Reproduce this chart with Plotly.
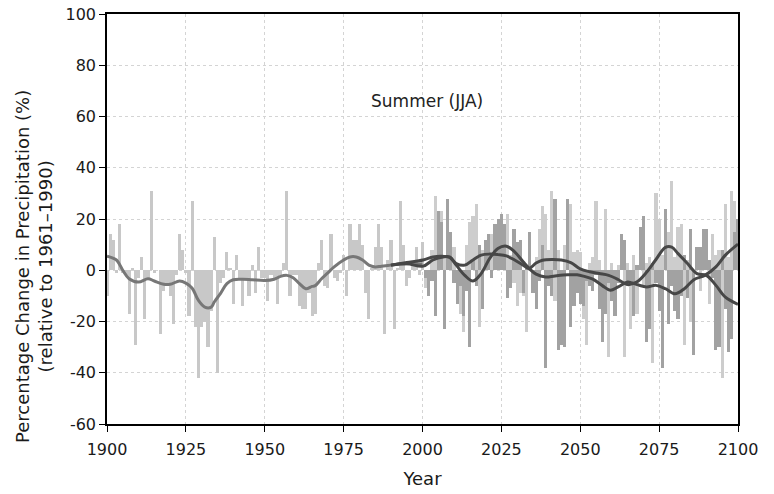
import plotly.graph_objects as go

# ---------------- data ----------------
obs_years = list(range(1900, 2001))
obs_values = [
    -10, 14, 12, -1, 18, -1, -2, -17, 1, -29,
    -3, 5, -19, -3, 31, -1, 0, -25, -8, -6,
    -10, -21, -2, 14, 8, -1, -18, 27, -22, -42,
    -22, -20, -30, -16, 13, -40, -5, -3, 7, 1,
    -13, 6, -3, -14, -3, -10, 2, -9, 9, -3,
    -3, -12, -2, -3, -13, -2, 3, 31, -10, -2,
    -2, -14, -15, -15, -9, -18, -17, 3, 12, -6,
    -7, 14, -3, -4, -1, 6, -10, 18, 12, 12,
    18, 10, -9, -19, 1, 9, 18, 9, -25, 4,
    12, -23, 1, 27, 10, -6, -3, 2, 9, -2,
    11,
]

model_years = list(range(2001, 2101))
model_light = [
    -7, -5, 8, 29, 19, 23, 5, 12, 12, 9,
    -9, -17, -24, 10, 19, 21, 26, -22, 8, 5,
    10, 14, 14, 10, 13, 13, 22, 6, -5, -14,
    -9, -10, -24, 8, -3, 5, 16, 25, 22, 8,
    31, -12, 8, -18, 10, 4, 26, 7, 8, 7,
    -19, -29, 3, 5, 27, 4, -6, 24, -34, 3,
    -8, 2, 4, -34, 3, -23, 6, -17, 5, -6,
    3, 5, -36, 30, 20, 6, 12, 15, 35, 5,
    17, 18, -29, 4, -20, -18, 3, -8, 5, 15,
    -13, 14, 6, 8, -42, 26, 5, 31, 27, 8,
]
model_dark = [
    -3, -10, -4, -18, 23, 19, -23, 28, 15, -5,
    -13, -6, -18, -8, -30, 4, -6, 10, -15, 12,
    14, -3, 18, 20, 22, 18, -11, -7, 16, 11,
    12, -9, 2, 15, -9, -15, -4, 10, -38, -6,
    -10, 28, -31, -29, -30, 28, -22, -14, -9, -13,
    -14, -4, -6, -8, -2, -15, -28, -17, -5, -12,
    -18, -5, 14, 12, -6, -4, -18, 2, 17, 21,
    -28, -23, 3, -5, -16, -38, 24, -21, -6, -16,
    -19, -10, 6, -11, 16, -33, 9, 9, 16, 16,
    4, -3, -31, -30, 8, -15, -32, -27, 15, 20,
]

obs_smooth_years = [1900, 1903, 1905, 1907, 1910, 1913, 1915, 1918, 1920, 1923,
                    1925, 1927, 1929, 1931, 1933, 1934, 1936, 1938, 1940, 1943,
                    1946, 1950, 1953, 1955, 1957, 1959, 1961, 1963, 1965, 1966,
                    1968, 1970, 1972, 1975, 1977, 1979, 1981, 1983, 1985, 1987,
                    1990, 1993, 1996, 2000]
obs_smooth_values = [5.5, 4, 0, -3.3, -4.6, -3.3, -4.2, -5.5, -5.5, -4.2,
                     -5, -7, -11.8, -14.4, -14.4, -12.4, -9, -5.2, -3.7, -3.5,
                     -3.7, -4, -3.5, -2.4, -2, -2.9, -5.2, -7.2, -6.3, -6,
                     -3.3, -1, 1.3, 4, 5.2, 5.2, 4, 2, 1.3, 1.6,
                     2, 2.4, 2.6, 2.4]

modelA_years = [1990, 1995, 2000.2, 2003.3, 2006.5, 2008.6, 2010.7, 2013.4, 2016, 2018.6,
                2021.3, 2023.9, 2026.6, 2029.2, 2031.9, 2033.8, 2036, 2039, 2042, 2046,
                2049, 2051, 2054, 2057, 2059.5, 2062, 2065, 2068, 2071, 2074,
                2077, 2080, 2083, 2086, 2089.5, 2093, 2096, 2100]
modelA_values = [2, 2.5, 1.6, 4, 5.2, 5.2, 2, -2, -4.2, -1.3,
                 4.6, 8.5, 9.4, 7.2, 3.3, 0.7, -1.5, -2.6, -2.2, -1.8,
                 -1.8, -2.3, -3.5, -6.0, -7.8, -6.5, -4.6, -5.6, -6.5, -5.9,
                 -7.2, -9.2, -7.2, -3.7, -2.0, 1.3, 5.9, 10.2]

modelB_years = [1990, 1995, 2000.2, 2003.3, 2006, 2008.6, 2010.7, 2013.4, 2016, 2018.6,
                2021.3, 2023.9, 2026.6, 2029.2, 2031.9, 2033.8, 2036, 2038, 2041, 2044,
                2047, 2050, 2053, 2056, 2059, 2062, 2065, 2068, 2071, 2074,
                2077, 2079, 2081, 2084, 2087, 2090, 2093, 2096, 2100]
modelB_values = [2, 3, 4, 5.2, 5.5, 5, 2.6, 2, 4, 5.9,
                 6.3, 6.1, 5.6, 4, 2, 0.7, 2.8, 3.9, 4.2, 4.0,
                 3.0, 0.5, -0.6, -1.3, -2.0, -3.6, -5.6, -4.5, -0.8, 4.2,
                 8.9, 9.0, 6.5, 2.6, -1.3, -2.0, -5.9, -10.5, -13.3]

x_ticks = [1900, 1925, 1950, 1975, 2000, 2025, 2050, 2075, 2100]
y_ticks = [-60, -40, -20, 0, 20, 40, 60, 80, 100]

FONT = "DejaVu Sans, sans-serif"

fig = go.Figure()
fig.add_trace(go.Bar(x=obs_years, y=obs_values, width=1, marker=dict(color="#c8c8c8", line=dict(width=0)),
                     showlegend=False))
fig.add_trace(go.Bar(x=model_years, y=model_light, width=1, marker=dict(color="#cdcdcd", line=dict(width=0)),
                     showlegend=False))
fig.add_trace(go.Bar(x=model_years, y=model_dark, width=1, marker=dict(color="#a2a2a2", line=dict(width=0)),
                     showlegend=False))
fig.add_trace(go.Scatter(x=obs_smooth_years, y=obs_smooth_values, mode="lines",
                         line=dict(color="#777777", width=3, shape="spline", smoothing=1.0), showlegend=False))
fig.add_trace(go.Scatter(x=modelA_years, y=modelA_values, mode="lines",
                         line=dict(color="#474747", width=3, shape="spline", smoothing=1.0), showlegend=False))
fig.add_trace(go.Scatter(x=modelB_years, y=modelB_values, mode="lines",
                         line=dict(color="#474747", width=3, shape="spline", smoothing=1.0), showlegend=False))

fig.add_annotation(x=2001.5, y=66, text="Summer (JJA)", showarrow=False,
                   font=dict(family=FONT, size=17, color="#222222"))

# y-axis title (two centred lines, placed like the original)
fig.add_annotation(xref="paper", yref="paper", x=-0.116, y=0.385,
                   xanchor="center", yanchor="middle", textangle=-90, showarrow=False,
                   text="Percentage Change in Precipitation (%)<br>(relative to 1961\u20131990)",
                   font=dict(family=FONT, size=18, color="#1a1a1a"))

fig.update_layout(
    width=774, height=494,
    margin=dict(l=107, r=36, t=14, b=70, autoexpand=False),
    paper_bgcolor="white", plot_bgcolor="white",
    barmode="overlay", bargap=0,
    font=dict(family=FONT, size=16, color="#1a1a1a"),
)
fig.update_xaxes(
    range=[1900, 2100], tickvals=x_ticks, ticktext=[str(v) for v in x_ticks],
    showline=True, linecolor="black", linewidth=1.5, mirror=True,
    ticks="outside", ticklen=6, tickcolor="black",
    showgrid=True, gridcolor="#d4d4d4", griddash="dot", gridwidth=1,
    zeroline=False, ticklabelstandoff=4, automargin=False,
    title=dict(text="Year", standoff=14, font=dict(size=18)),
    tickfont=dict(size=16),
)
fig.update_yaxes(
    range=[-60, 100], tickvals=y_ticks, ticktext=[str(v) for v in y_ticks],
    showline=True, linecolor="black", linewidth=1.5, mirror=True,
    ticks="outside", ticklen=6, tickcolor="black",
    showgrid=True, gridcolor="#d4d4d4", griddash="dot", gridwidth=1,
    zeroline=False, automargin=False,
    tickfont=dict(size=16),
)

fig.write_html("out.html")
